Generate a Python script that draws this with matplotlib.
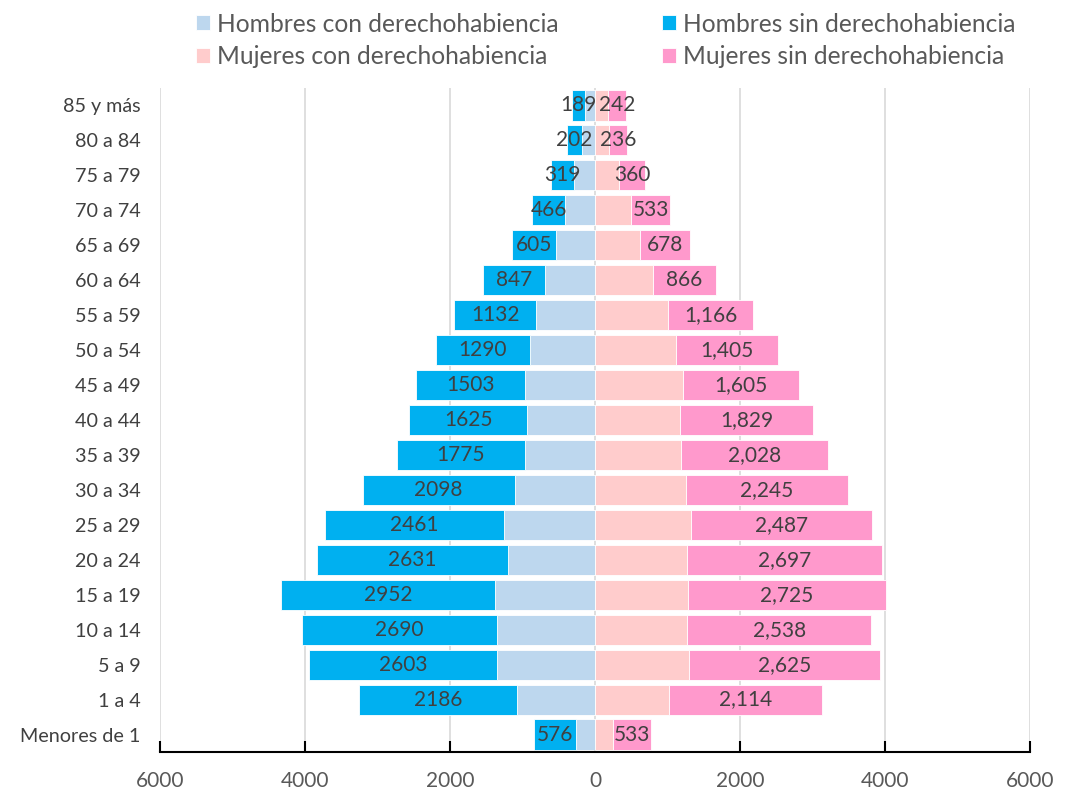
import numpy as np
import matplotlib as mpl
import matplotlib.pyplot as plt
from matplotlib.ticker import FuncFormatter

mpl.rcParams['font.family'] = ['Lato', 'DejaVu Sans']

#
# Data
#
grupos = ['Menores de 1', '1 a 4', '5 a 9', '10 a 14', '15 a 19', '20 a 24',
          '25 a 29', '30 a 34', '35 a 39', '40 a 44', '45 a 49', '50 a 54',
          '55 a 59', '60 a 64', '65 a 69', '70 a 74', '75 a 79', '80 a 84',
          '85 y más']

hombres_con = [260, 1075, 1345, 1352, 1374, 1202, 1262, 1108, 961, 936,
               960, 902, 813, 694, 543, 408, 288, 180, 135]
hombres_sin = [576, 2186, 2603, 2690, 2952, 2631, 2461, 2098, 1775, 1625,
               1503, 1290, 1132, 847, 605, 466, 319, 202, 189]
mujeres_con = [246, 1020, 1301, 1273, 1285, 1265, 1329, 1250, 1183, 1177,
               1215, 1120, 1012, 800, 626, 501, 332, 199, 182]
mujeres_sin = [533, 2114, 2625, 2538, 2725, 2697, 2487, 2245, 2028, 1829,
               1605, 1405, 1166, 866, 678, 533, 360, 236, 242]

xticks = [-6000, -4000, -2000, 0, 2000, 4000, 6000]

c_hc = '#BDD7EE'
c_hs = '#00B0F0'
c_mc = '#FFCCCC'
c_ms = '#FF99CC'
txt = '#404040'

hc = np.array(hombres_con)
hs = np.array(hombres_sin)
mc = np.array(mujeres_con)
ms = np.array(mujeres_sin)
y = np.arange(len(grupos))

fig = plt.figure(figsize=(10.78, 7.94), dpi=100)
ax = fig.add_axes([160 / 1078, 42 / 794, 870 / 1078, 664 / 794])

h = 0.86
b1 = ax.barh(y, -hc, height=h, color=c_hc, edgecolor='white', linewidth=0.6)
b2 = ax.barh(y, -hs, left=-hc, height=h, color=c_hs, edgecolor='white', linewidth=0.6)
b3 = ax.barh(y, mc, height=h, color=c_mc, edgecolor='white', linewidth=0.6)
b4 = ax.barh(y, ms, left=mc, height=h, color=c_ms, edgecolor='white', linewidth=0.6)

# labels for the "sin" segments
for i in range(len(grupos)):
    ax.text(-hc[i] - hs[i] / 2, y[i], str(hs[i]), ha='center', va='center',
            fontsize=15, color=txt)
    ax.text(mc[i] + ms[i] / 2, y[i], format(ms[i], ','), ha='center', va='center',
            fontsize=15, color=txt)

ax.set_xlim(-6000, 6000)
ax.set_ylim(-0.5, len(grupos) - 0.5)
ax.set_xticks(xticks)
ax.xaxis.set_major_formatter(FuncFormatter(lambda v, p: '%d' % abs(v)))
ax.set_yticks(y)
ax.set_yticklabels(grupos)

ax.grid(axis='x', color='#D9D9D9', linewidth=1.2)
ax.set_axisbelow(True)
for s in ['left', 'right', 'top']:
    ax.spines[s].set_visible(False)
ax.spines['bottom'].set_linewidth(1.5)
ax.spines['bottom'].set_color('black')

ax.tick_params(axis='x', direction='in', length=8, width=1.5, colors='black',
               labelcolor='#595959', labelsize=15, pad=14)
ax.tick_params(axis='y', length=0, labelcolor=txt, labelsize=14.2, pad=14)

fig.legend([b1, b3, b2, b4],
           ['Hombres con derechohabiencia', 'Mujeres con derechohabiencia',
            'Hombres sin derechohabiencia', 'Mujeres sin derechohabiencia'],
           ncol=2, loc='upper center', bbox_to_anchor=(606 / 1078, 1.012),
           frameon=False, fontsize=17.7, labelcolor='#595959',
           handlelength=0.57, handleheight=0.57, handletextpad=0.28,
           columnspacing=4.2, labelspacing=0.38)

plt.savefig('out.png', dpi=100)
